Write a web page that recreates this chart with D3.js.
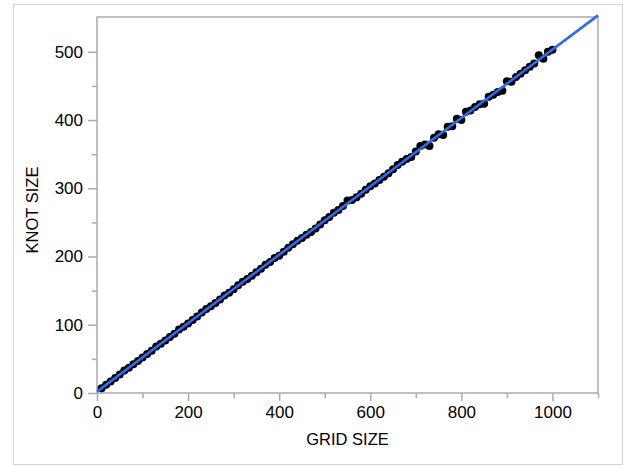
<!DOCTYPE html>
<html>
<head>
<meta charset="utf-8">
<script src="https://cdn.jsdelivr.net/npm/d3@7"></script>
<style>
	body { margin: 0; background: #fff; }
	svg { display: block; font-family: "Liberation Sans", Arial, Helvetica, sans-serif; }
</style>
</head>
<body>
<svg id="chart" width="633" height="466"></svg>
<script>
// data
const gridSize = [10, 20, 30, 40, 50, 60, 70, 80, 90, 100,
	110, 120, 130, 140, 150, 160, 170, 180, 190, 200,
	210, 220, 230, 240, 250, 260, 270, 280, 290, 300,
	310, 320, 330, 340, 350, 360, 370, 380, 390, 400,
	410, 420, 430, 440, 450, 460, 470, 480, 490, 500,
	510, 520, 530, 540, 550, 560, 570, 580, 590, 600,
	610, 620, 630, 640, 650, 660, 670, 680, 690, 700,
	710, 720, 730, 740, 750, 760, 770, 780, 790, 800,
	810, 820, 830, 840, 850, 860, 870, 880, 890, 900,
	910, 920, 930, 940, 950, 960, 970, 980, 990, 1000];
const knotSize = [7, 12, 17, 22, 27, 33, 37, 42, 47, 52,
	57, 62, 68, 72, 77, 82, 87, 93, 97, 102,
	107, 112, 118, 123, 127, 132, 137, 143, 147, 152,
	158, 163, 167, 172, 177, 182, 188, 192, 198, 201,
	207, 213, 218, 223, 227, 232, 236, 241, 247, 253,
	258, 264, 268, 274, 282, 283, 287, 292, 298, 303,
	307, 312, 317, 322, 328, 334, 339, 343, 346, 354,
	362, 364, 362, 374, 379, 378, 390, 391, 402, 400,
	412, 414, 419, 423, 424, 434, 437, 441, 443, 457,
	456, 463, 468, 473, 478, 483, 495, 490, 500, 503];
const xTicks = [0, 200, 400, 600, 800, 1000];
const xMinor = [100, 300, 500, 700, 900, 1100];
const yTicks = [0, 100, 200, 300, 400, 500];
const yMinor = [50, 150, 250, 350, 450];
const xTitle = 'GRID SIZE';
const yTitle = 'KNOT SIZE';

const svg = d3.select('#chart');
const plot = { left: 97, top: 17, right: 598, bottom: 393 };
const axisColor = '#aaaaaa';

// 바깥 테두리
svg.append('rect')
	.attr('x', 13.5).attr('y', 4.5)
	.attr('width', 609).attr('height', 460)
	.style('fill', 'none')
	.style('stroke', '#d4d4d4');

const x = d3.scaleLinear().domain([0, 1100]).range([plot.left, plot.right]);
const y = d3.scaleLinear().domain([0, 551]).range([plot.bottom, plot.top]);

// plot frame
svg.append('rect')
	.attr('x', plot.left).attr('y', plot.top)
	.attr('width', plot.right - plot.left).attr('height', plot.bottom - plot.top)
	.style('fill', 'none')
	.style('stroke', axisColor)
	.style('stroke-width', 1.5);

// axes
function styleAxis(g) {
	g.select('.domain').remove();
	g.selectAll('line').style('stroke', axisColor).style('stroke-width', 1.5);
	g.selectAll('text').style('font-size', '17px').style('fill', '#000');
}

svg.append('g')
	.attr('transform', 'translate(0,' + plot.bottom + ')')
	.call(d3.axisBottom(x).tickValues(xMinor).tickSize(5).tickFormat(''))
	.call(styleAxis);
svg.append('g')
	.attr('transform', 'translate(0,' + plot.bottom + ')')
	.call(d3.axisBottom(x).tickValues(xTicks).tickSize(8).tickPadding(5).tickFormat(d3.format('d')))
	.call(styleAxis);

svg.append('g')
	.attr('transform', 'translate(' + plot.left + ',0)')
	.call(d3.axisLeft(y).tickValues(yMinor).tickSize(5).tickFormat(''))
	.call(styleAxis);
svg.append('g')
	.attr('transform', 'translate(' + plot.left + ',0)')
	.call(d3.axisLeft(y).tickValues(yTicks).tickSize(9).tickPadding(5).tickFormat(d3.format('d')))
	.call(styleAxis);

// titles
svg.append('text')
	.attr('x', (plot.left + plot.right) / 2)
	.attr('y', 445)
	.style('text-anchor', 'middle')
	.style('font-size', '16.5px')
	.style('fill', '#000')
	.text(xTitle);
svg.append('text')
	.attr('transform', 'translate(38,' + 210 + ') rotate(-90)')
	.style('text-anchor', 'middle')
	.style('font-size', '16.5px')
	.style('fill', '#000')
	.text(yTitle);

// points
const points = gridSize.map((g, i) => ({ g: g, k: knotSize[i] }));
svg.append('g')
	.selectAll('circle')
	.data(points)
	.join('circle')
	.attr('cx', d => x(d.g))
	.attr('cy', d => y(d.k))
	.attr('r', 4)
	.style('fill', '#000');

// least squares fit
const mg = d3.mean(gridSize), mk = d3.mean(knotSize);
const slope = d3.sum(points, d => (d.g - mg) * (d.k - mk)) / d3.sum(points, d => (d.g - mg) * (d.g - mg));
const intercept = mk - slope * mg;
const fitX = [0, 1100];
svg.append('path')
	.datum(fitX)
	.attr('d', d3.line().x(d => x(d)).y(d => y(intercept + slope * d)))
	.style('fill', 'none')
	.style('stroke', '#2a6cf6')
	.style('stroke-width', 2.6);
</script>
</body>
</html>
